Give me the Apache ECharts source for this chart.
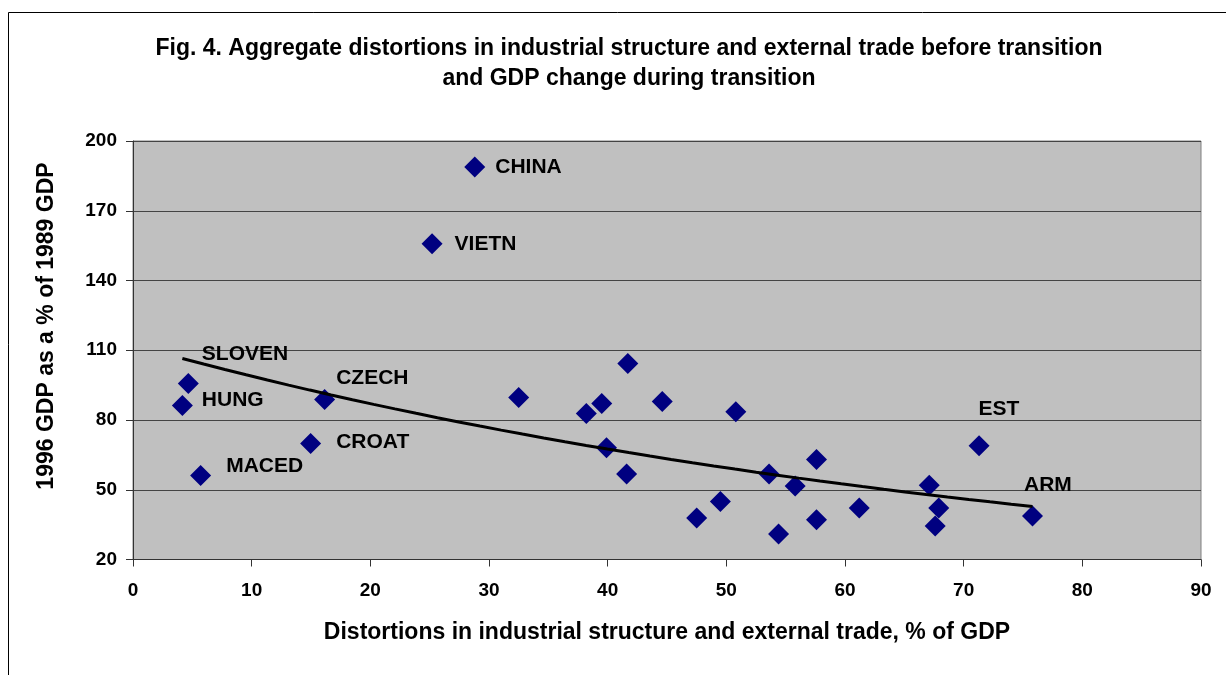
<!DOCTYPE html>
<html>
<head>
<meta charset="utf-8">
<script src="https://cdn.jsdelivr.net/npm/echarts/dist/echarts.min.js"></script>
<style>
  html, body { margin: 0; padding: 0; background: #fff; }
  #chart { width: 1226px; height: 675px; }
</style>
</head>
<body>
<div id="chart"></div>
<script>
// distortions, % of GDP
const xValues = [28.8, 25.2, 4.66, 4.16, 5.7, 14.97, 16.15,
  32.5, 41.7, 38.2, 39.5, 44.6, 50.8, 39.9, 41.6, 47.5, 49.5, 53.6, 54.4,
  55.8, 57.6, 57.6, 61.2, 67.1, 67.9, 67.6, 71.3, 75.8]
// 1996 GDP as % of 1989
const yValues = [188.8, 155.8, 95.7, 86.2, 56.1, 69.9, 88.8,
  89.7, 104.3, 82.8, 87.1, 88.0, 83.5, 68.1, 56.8, 37.8, 44.9, 56.8, 31.0,
  51.6, 63.0, 37.1, 42.1, 51.9, 42.1, 34.4, 68.9, 38.7]
const pointNames = ['CHINA', 'VIETN', 'SLOVEN', 'HUNG', 'MACED', 'CROAT', 'CZECH',
  '', '', '', '', '', '', '', '', '', '', '', '',
  '', '', '', '', '', '', '', 'EST', 'ARM']
const xTicks = [0, 10, 20, 30, 40, 50, 60, 70, 80, 90]
const yTicks = [20, 50, 80, 110, 140, 170, 200]

// where each label sits relative to its marker (px)
const labelOffsets = {
  CHINA: [10, 0],
  VIETN: [12, 0],
  SLOVEN: [3, -29],
  HUNG: [9, -5],
  MACED: [15, -9],
  CROAT: [15, -1],
  CZECH: [1, -21],
  EST: [-11, -37],
  ARM: [-19, -31]
}

// exponential trend line, least squares on ln(y) like the spreadsheet does
function expTrend (xs, ys) {
  const n = xs.length
  let sx = 0, sl = 0
  for (let i = 0; i < n; i++) { sx += xs[i]; sl += Math.log(ys[i]) }
  const mx = sx / n, ml = sl / n
  let sxy = 0, sxx = 0
  for (let i = 0; i < n; i++) {
    sxy += (xs[i] - mx) * (Math.log(ys[i]) - ml)
    sxx += (xs[i] - mx) * (xs[i] - mx)
  }
  const b = sxy / sxx
  const a = Math.exp(ml - b * mx)
  const x0 = Math.min.apply(null, xs), x1 = Math.max.apply(null, xs)
  const pts = []
  const steps = 40
  for (let k = 0; k <= steps; k++) {
    const x = x0 + (x1 - x0) * k / steps
    pts.push([x, a * Math.exp(b * x)])
  }
  return pts
}

const font = '"Liberation Sans", Arial, sans-serif'

const labelText = {
  fontFamily: font,
  fontWeight: 'bold',
  fontSize: 21,
  color: '#000',
  textBorderWidth: 0
}

const scatterData = xValues.map((x, i) => {
  const name = pointNames[i]
  const item = { value: [x, yValues[i]], name: name }
  if (name) {
    item.label = Object.assign({
      show: true,
      formatter: name,
      position: 'right',
      distance: 0,
      offset: labelOffsets[name] || [5, 0]
    }, labelText)
  }
  return item
})

const chart = echarts.init(document.getElementById('chart'))

const option = {
  animation: false,
  backgroundColor: '#fff',
  title: {
    text: 'Fig. 4. Aggregate distortions in industrial structure and external trade before transition\nand GDP change during transition',
    left: 624,
    top: 29,
    textAlign: 'center',
    textStyle: {
      fontFamily: font,
      fontWeight: 'bold',
      fontSize: 23,
      lineHeight: 30,
      color: '#000'
    }
  },
  graphic: [
    {
      type: 'rect',
      shape: { x: 8.5, y: 12.5, width: 1250, height: 700 },
      style: { fill: null, stroke: '#000', lineWidth: 1 },
      silent: true
    },
    {
      type: 'text',
      x: 47,
      y: 326,
      rotation: Math.PI / 2,
      style: {
        text: '1996 GDP as a % of 1989 GDP',
        fontFamily: font,
        fontWeight: 'bold',
        fontSize: 23,
        fill: '#000',
        align: 'center',
        verticalAlign: 'middle'
      }
    }
  ],
  grid: {
    left: 133,
    right: 25,
    top: 141,
    bottom: 115.5,
    show: true,
    backgroundColor: '#c0c0c0',
    borderColor: '#808080',
    borderWidth: 1
  },
  xAxis: {
    type: 'value',
    min: xTicks[0],
    max: xTicks[xTicks.length - 1],
    interval: 10,
    name: 'Distortions in industrial structure and external trade, % of GDP',
    nameLocation: 'middle',
    nameGap: 62,
    nameTextStyle: {
      fontFamily: font,
      fontWeight: 'bold',
      fontSize: 23,
      color: '#000'
    },
    axisLine: { show: true, lineStyle: { color: '#333', width: 1 } },
    axisTick: { show: true, length: 7, lineStyle: { color: '#333' } },
    axisLabel: {
      margin: 22,
      fontFamily: font,
      fontWeight: 'bold',
      fontSize: 19,
      color: '#000'
    },
    splitLine: { show: false }
  },
  yAxis: {
    type: 'value',
    min: yTicks[0],
    max: yTicks[yTicks.length - 1],
    interval: 30,
    axisLine: { show: true, lineStyle: { color: '#333', width: 1 } },
    axisTick: { show: true, length: 7, lineStyle: { color: '#333' } },
    axisLabel: {
      margin: 16,
      fontFamily: font,
      fontWeight: 'bold',
      fontSize: 19,
      color: '#000'
    },
    splitLine: { show: true, lineStyle: { color: '#444', width: 1 } }
  },
  series: [
    {
      type: 'scatter',
      symbol: 'diamond',
      symbolSize: 21,
      itemStyle: { color: '#000080', opacity: 1 },
      label: labelText,
      emphasis: { disabled: true },
      data: scatterData,
      z: 2
    },
    {
      type: 'line',
      data: expTrend(xValues, yValues),
      showSymbol: false,
      symbol: 'none',
      lineStyle: { color: '#000', width: 3 },
      z: 3
    }
  ]
}

chart.setOption(option)
</script>
</body>
</html>
